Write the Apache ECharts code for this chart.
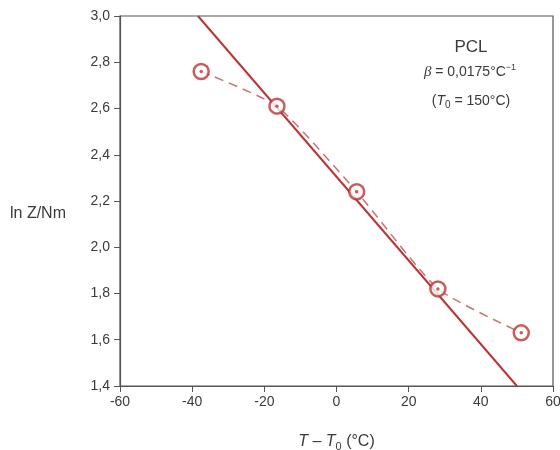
<!DOCTYPE html>
<html><head><meta charset="utf-8">
<script src="https://cdn.jsdelivr.net/npm/echarts@6/dist/echarts.min.js"></script>
<style>html,body{margin:0;padding:0;background:#fff}#c{width:560px;height:450px}</style>
</head><body><div id="c"></div>
<script>
var pointX = [-37.5, -16.5, 5.6, 28.1, 51.2];
var pointY = [2.76, 2.61, 2.24, 1.82, 1.63];
var fitX = [-38.4, 50.0];
var fitY = [3.0, 1.4];
var xTicks = [-60, -40, -20, 0, 20, 40, 60];
var yTicks = [1.4, 1.6, 1.8, 2.0, 2.2, 2.4, 2.6, 2.8, 3.0];

var red = '#bb3535';
var txt = '#3a3a3a';
function zip(a, b) { return a.map(function (v, i) { return [v, b[i]]; }); }
var chart = echarts.init(document.getElementById('c'));
chart.setOption({
  animation: false,
  grid: { left: 120, right: 7, top: 16, bottom: 64, show: false, containLabel: false, outerBoundsMode: 'none' },
  xAxis: {
    type: 'value', min: -60, max: 60, interval: 20,
    axisLine: { onZero: false, lineStyle: { color: '#555', width: 1.2 } },
    axisTick: { show: true, inside: false, length: 6, lineStyle: { color: '#555' } },
    splitLine: { show: false },
    axisLabel: { color: txt, fontSize: 14, fontFamily: 'Liberation Sans', margin: 9 },
    name: '{i|T} – {i|T}{s|0} (°C)', nameLocation: 'middle', nameGap: 46,
    nameTextStyle: {
      color: txt, fontSize: 16, fontFamily: 'Liberation Sans',
      rich: {
        i: { fontStyle: 'italic', fontSize: 16, fontFamily: 'Liberation Sans', color: txt },
        s: { fontSize: 11, verticalAlign: 'bottom', padding: [9, 0, 0, 0], fontFamily: 'Liberation Sans', color: txt }
      }
    }
  },
  yAxis: {
    type: 'value', min: 1.4, max: 3.0, interval: 0.2,
    axisLine: { show: true, onZero: false, lineStyle: { color: '#555', width: 1.2 } },
    axisTick: { show: true, inside: false, length: 6, lineStyle: { color: '#555' } },
    splitLine: { show: false },
    axisLabel: {
      color: txt, fontSize: 14, fontFamily: 'Liberation Sans', margin: 10,
      formatter: function (v) { return v.toFixed(1).replace('.', ','); }
    }
  },
  graphic: [
    { type: 'rect', shape: { x: 120, y: 16, width: 433, height: 370 }, style: { fill: 'none', stroke: '#555', lineWidth: 1.2 }, silent: true, z: 0 },
    { type: 'text', left: 10, top: 206, style: { text: 'ln Z/Nm', fontSize: 16, fontFamily: 'Liberation Sans', fill: txt } },
    { type: 'text', x: 471, y: 39, style: { text: 'PCL', align: 'center', fontSize: 17, fontFamily: 'Liberation Sans', fill: txt } },
    { type: 'text', x: 470, y: 63, style: {
      text: '{i|β} = 0,0175°C{s|−1}', align: 'center', fontSize: 14, fontFamily: 'Liberation Sans', fill: txt,
      rich: {
        i: { fontStyle: 'italic', fontSize: 15, fontFamily: 'Liberation Serif', fill: txt },
        s: { fontSize: 9, verticalAlign: 'top', padding: [0, 0, 9, 0], fill: txt }
      } } },
    { type: 'text', x: 471, y: 92, style: {
      text: '({i|T}{s|0} = 150°C)', align: 'center', fontSize: 14, fontFamily: 'Liberation Sans', fill: txt,
      rich: {
        i: { fontStyle: 'italic', fontSize: 14, fontFamily: 'Liberation Sans', fill: txt },
        s: { fontSize: 10, verticalAlign: 'bottom', padding: [8, 0, 0, 0], fill: txt }
      } } }
  ],
  series: [
    { type: 'line', data: zip(fitX, fitY), symbol: 'none', lineStyle: { color: red, width: 2 }, z: 2 },
    { type: 'line', data: zip(pointX, pointY), symbol: 'none', smooth: 0.18,
      lineStyle: { color: '#cc7272', width: 1.5, type: [9, 6] }, z: 2 },
    { type: 'scatter', data: zip(pointX, pointY), symbol: 'circle', symbolSize: 15,
      itemStyle: { color: '#fff', borderColor: red, borderWidth: 2.5 }, z: 3 },
    { type: 'scatter', data: zip(pointX, pointY), symbol: 'circle', symbolSize: 3.5,
      itemStyle: { color: red }, z: 4 }
  ]
});
</script></body></html>
